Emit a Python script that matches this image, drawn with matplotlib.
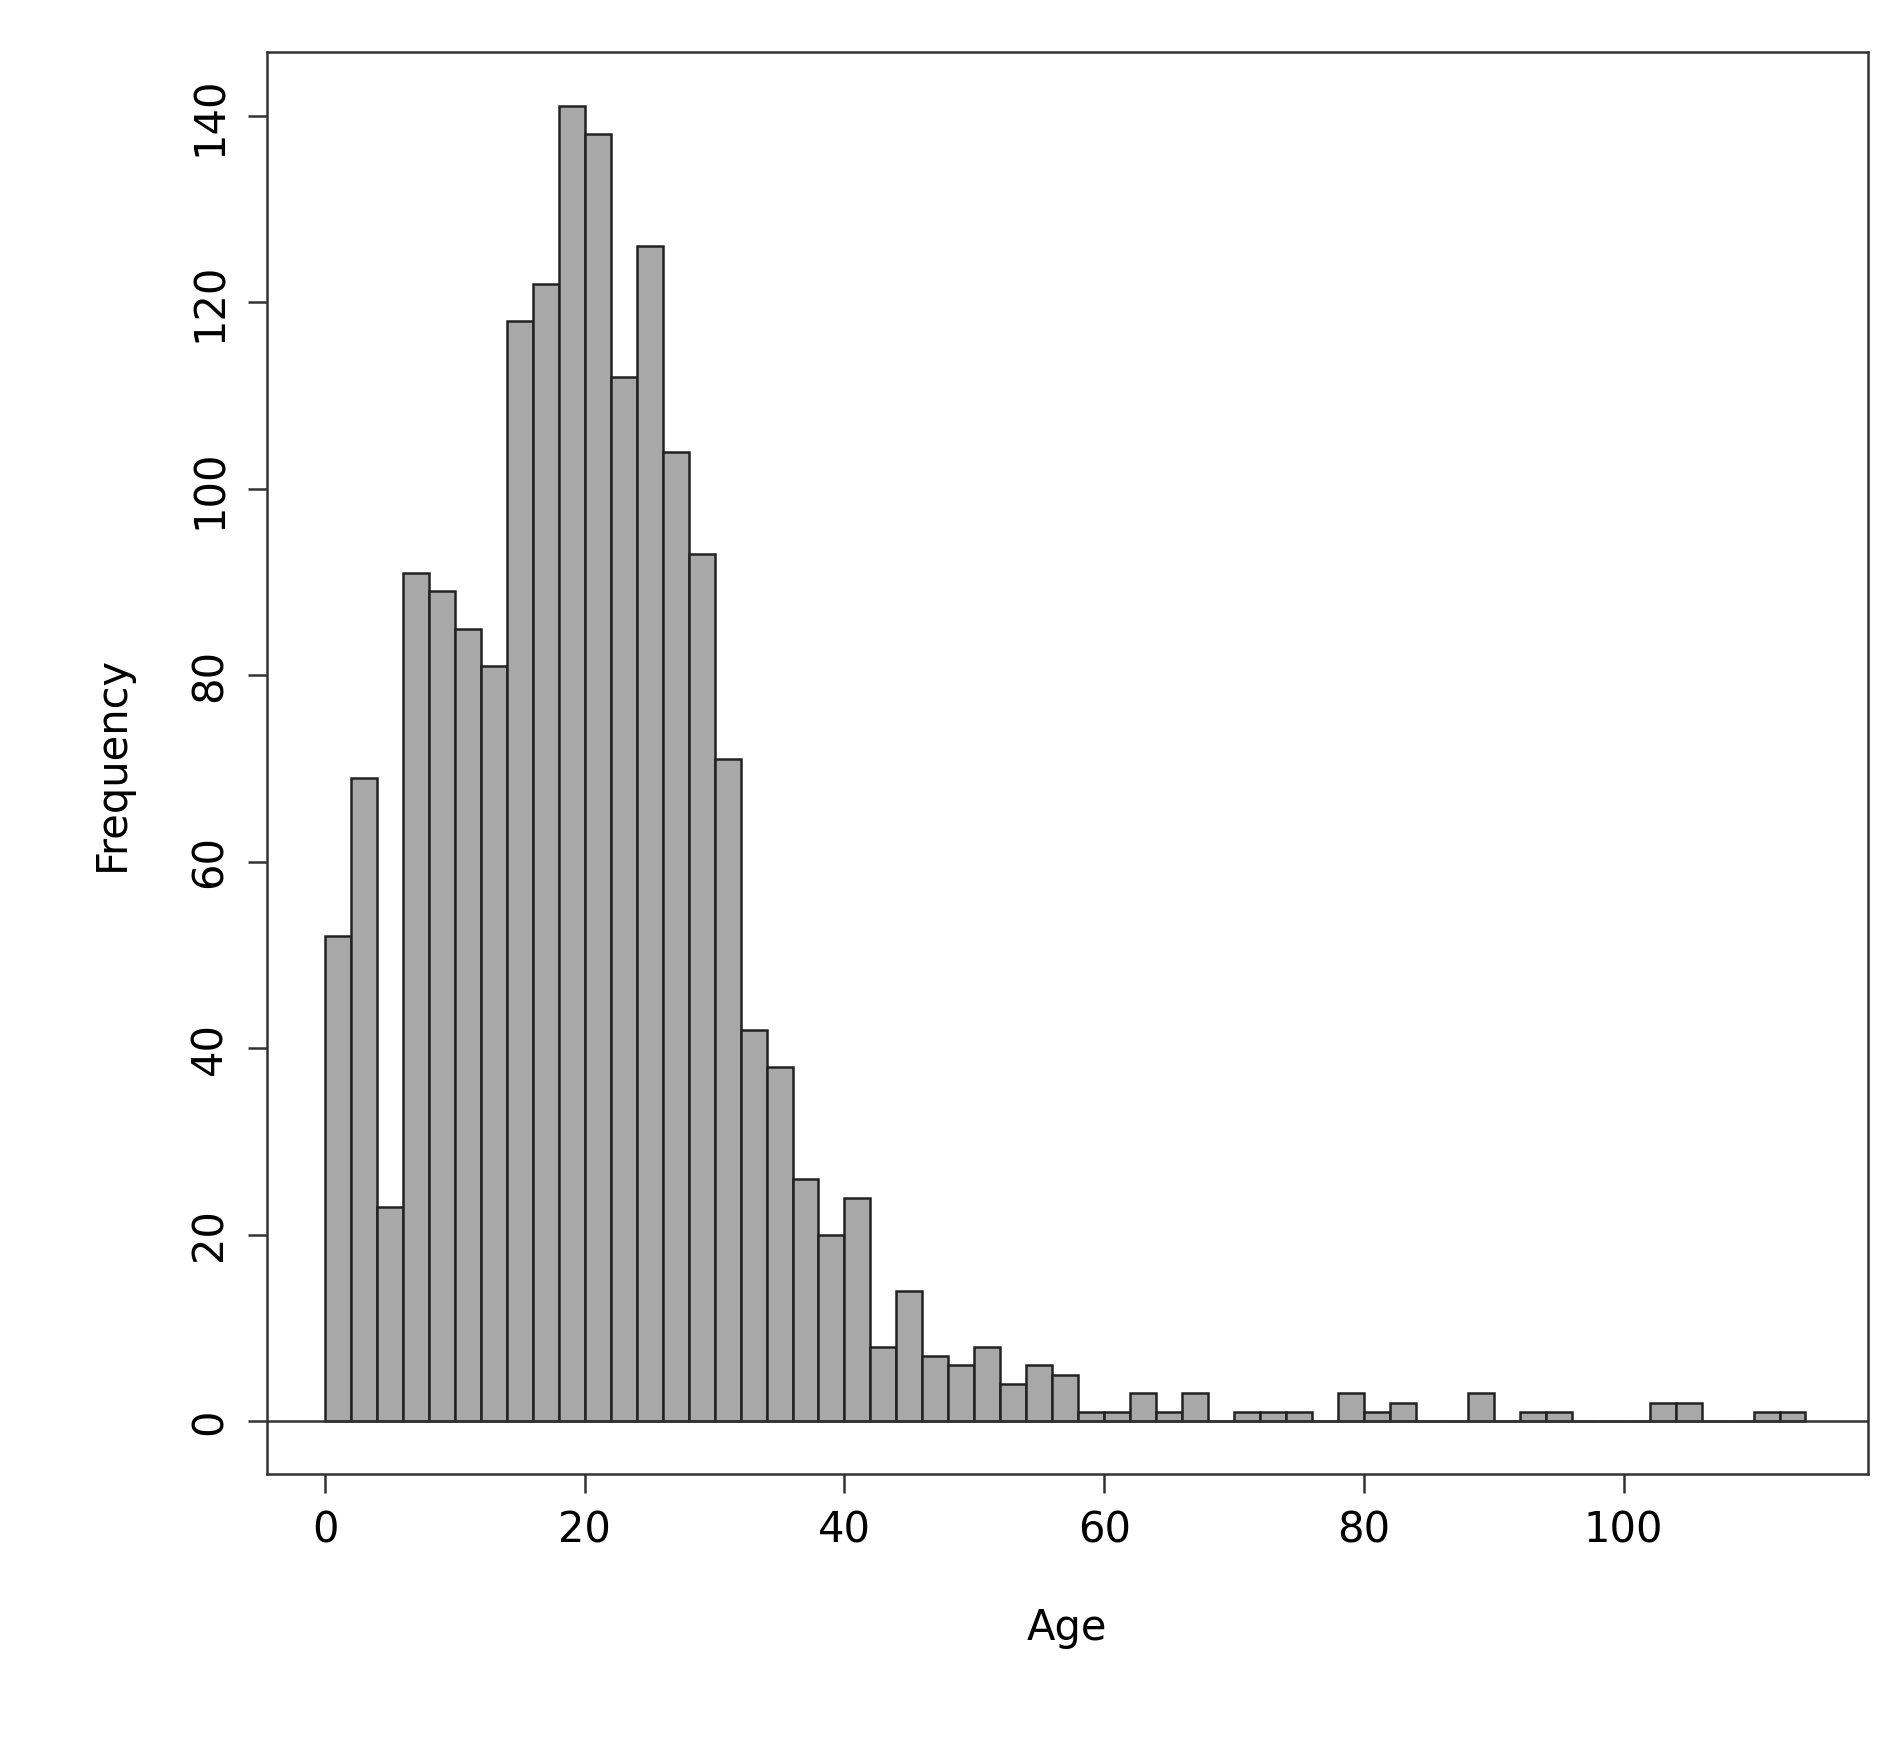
import matplotlib.pyplot as plt
import numpy as np

# histogram of ages, bins of width 2 from 0 to 114
bin_edges = list(range(0, 116, 2))
counts = [52, 69, 23, 91, 89, 85, 81, 118, 122, 141,
          138, 112, 126, 104, 93, 71, 42, 38, 26, 20,
          24, 8, 14, 7, 6, 8, 4, 6, 5, 1,
          1, 3, 1, 3, 0, 1, 1, 1, 0, 3,
          1, 2, 0, 0, 3, 0, 1, 1, 0, 0,
          0, 2, 2, 0, 0, 1, 1]
x_ticks = [0, 20, 40, 60, 80, 100]
y_ticks = [0, 20, 40, 60, 80, 100, 120, 140]

fig = plt.figure(figsize=(19.04, 17.46), dpi=100)
ax = fig.add_axes([0.140, 0.156, 0.841, 0.814])

ax.bar(bin_edges[:-1], counts, width=2, align='edge',
       color='#a8a8a8', edgecolor='#222222', linewidth=1.8)
ax.axhline(0, color='#333333', linewidth=1.8)

ax.set_xlim(-4.5, 118.8)
ax.set_ylim(-5.6, 146.8)
ax.set_xticks(x_ticks)
ax.set_yticks(y_ticks)
ax.set_yticklabels([str(v) for v in y_ticks], rotation=90, va='center')
ax.tick_params(labelsize=30, length=14, width=1.8, pad=12, color='#333333')
for s in ax.spines.values():
    s.set_linewidth(1.8)
    s.set_color('#333333')

ax.set_xlabel('Age', fontsize=30, labelpad=40)
ax.set_ylabel('Frequency', fontsize=30, labelpad=40)

fig.savefig('out.png', dpi=100)
